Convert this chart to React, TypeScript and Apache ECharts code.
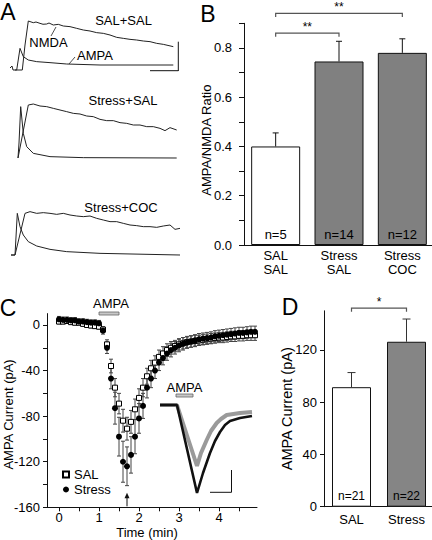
import React, { useEffect, useRef } from 'react';
import * as echarts from 'echarts';

const FONT = '"Liberation Sans", Arial, Helvetica, sans-serif';
const NARROW = '"Liberation Sans Narrow", "Liberation Sans", Arial, sans-serif';

// ---------------- Panel A: example traces [sweep time (a.u.), normalized current] ----------------
const traceLabels = ['SAL+SAL', 'Stress+SAL', 'Stress+COC'];
const salSalNmda = [[5, 0], [12.3, 0], [15, 0.5], [18.3, 0.98], [23.3, 0.946], [26, 0.96], [30, 0.933], [33, 0.915], [36.7, 0.92], [39, 0.94], [43.3, 0.9], [48.3, 0.913], [53.3, 0.88], [60, 0.867], [66.7, 0.833], [73.3, 0.8], [80, 0.78], [86.7, 0.747], [93.3, 0.733], [100, 0.7], [106.7, 0.653], [113.3, 0.633], [120, 0.613], [126.7, 0.6], [133.3, 0.58], [140, 0.567], [146.7, 0.533], [153.3, 0.513], [163.3, 0.467]];
const salSalAmpa = [[0, 0.04], [2, 0.08], [3, 0], [6.7, 0], [10, 0.433], [13.3, 0.267], [18.3, 0.2], [26.7, 0.167], [40, 0.147], [56.7, 0.12], [90, 0.1], [123, 0.1], [163.3, 0.1]];
const stressSalNmda = [[8, 0], [18.3, 1.06], [23.3, 1.08], [30, 1.04], [36.7, 1.027], [43.3, 0.993], [50, 0.96], [56.7, 0.927], [63.3, 0.893], [70, 0.88], [76.7, 0.84], [83.3, 0.827], [90, 0.773], [96.7, 0.747], [103.3, 0.747], [110, 0.707], [116.7, 0.693], [123.3, 0.66], [130, 0.66], [136.7, 0.627], [143.3, 0.627], [150, 0.593], [155, 0.547], [160, 0.607], [166.7, 0.56]];
const stressSalAmpa = [[8, 0], [9, 0.3], [10.7, 1.027], [13.3, 0.493], [16.7, 0.227], [23.3, 0.093], [40, 0.027], [73.3, 0.007], [166.7, 0]];
const stressCocNmda = [[1, 0], [5, 0], [15, 0.833], [20, 0.867], [26.7, 0.833], [33.3, 0.847], [40, 0.833], [46.7, 0.813], [53.3, 0.833], [60, 0.8], [66.7, 0.78], [73.3, 0.767], [80, 0.78], [86.7, 0.733], [93.3, 0.7], [100, 0.667], [106.7, 0.667], [113.3, 0.633], [120, 0.6], [126.7, 0.587], [133.3, 0.567], [140, 0.567], [146.7, 0.553], [153.3, 0.58], [160, 0.6], [165, 0.513], [170, 0.533]];
const stressCocAmpa = [[1, 0], [5, 0], [7.3, 0.833], [10, 0.567], [13.3, 0.4], [18.3, 0.267], [26.7, 0.18], [40, 0.113], [56.7, 0.067], [90, 0.033], [170, 0]];
const traceSets = [
  [salSalNmda, salSalAmpa],
  [stressSalNmda, stressSalAmpa],
  [stressCocNmda, stressCocAmpa],
];

// ---------------- Panel B ----------------
const bCategories = ['SAL\nSAL', 'Stress\nSAL', 'Stress\nCOC'];
const bMeans = [0.4, 0.745, 0.78];
const bErrors = [0.055, 0.082, 0.057];
const bN = [5, 14, 12];

// ---------------- Panel C ----------------
const cTimes = [0, 0.1, 0.2, 0.3, 0.4, 0.5, 0.6, 0.7, 0.8, 0.9, 1.0, 1.1, 1.2, 1.3, 1.4, 1.5, 1.6, 1.7, 1.8, 1.9, 2.0, 2.1, 2.2, 2.3, 2.4, 2.5, 2.6, 2.7, 2.8, 2.9, 3.0, 3.1, 3.2, 3.3, 3.4, 3.5, 3.6, 3.7, 3.8, 3.9, 4.0, 4.1, 4.2, 4.3, 4.4, 4.5, 4.6, 4.7, 4.8, 4.9];
const cSal = [3, 3, 3.5, 2.5, 2, 2, 1, 0, -0.5, -1, -1.5, -4, -17, -36, -55, -69, -84, -91, -85, -74, -64, -55, -45, -38, -33, -28, -25, -22, -20, -18.5, -17, -16, -15, -14.5, -14, -13.5, -13, -12.5, -12, -11.5, -11, -11, -10.5, -10, -10, -9.5, -9.5, -9, -9, -9];
const cSalErr = [2, 2, 2, 2, 2, 2, 2, 2, 2, 2, 2, 2.5, 4, 6, 8, 9, 10, 10, 10, 9, 8, 8, 7, 7, 6, 6, 6, 5.5, 5.5, 5, 5, 5, 5, 5, 5, 4.5, 4.5, 4.5, 4.5, 4.5, 4.5, 4.5, 4.5, 4.5, 4.5, 4.5, 4.5, 4.5, 4.5, 4.5];
const cStress = [5, 4.5, 4.5, 4, 4, 3, 3, 2.5, 2, 2, 1.5, -5, -20, -47, -73, -98, -120, -124, -114, -98, -82, -71, -55, -47, -40, -33, -29, -25, -22, -20, -18, -16.5, -15.5, -14.5, -13.5, -12.5, -12, -11.5, -11, -10, -9.5, -9, -8.5, -8, -7.5, -7, -7, -6.5, -6, -6];
const cStressErr = [2.5, 2.5, 2.5, 2.5, 2.5, 2.5, 2.5, 2.5, 2.5, 2.5, 2.5, 3, 5, 9, 14, 17, 18, 17, 16, 15, 13, 11, 9, 8, 7, 7, 6, 6, 6, 5.5, 5.5, 5.5, 5, 5, 5, 5, 5, 5, 5, 5, 5, 5, 5, 5, 5, 5, 5, 5, 5, 5];
const cYTicks = [-160, -140, -120, -100, -80, -60, -40, -20, 0];
const cYLabels = [-160, -120, -80, -40, 0];
const cXTicks = [0, 0.5, 1, 1.5, 2, 2.5, 3, 3.5, 4, 4.5];
const cXLabels = [0, 1, 2, 3, 4];
const cAmpaWindow = [1.0, 1.5];
const cArrowTime = 1.7;

// inset traces [time (a.u.), current (a.u.)]
const insetSal = [[0, 0], [17, 0], [37, -61], [41, -48], [46.7, -35], [51, -26], [56.7, -18], [61, -14], [66.7, -10], [80, -8], [92, -7]];
const insetStress = [[0, 0], [17, 0], [37, -88], [43, -68], [50, -48], [55, -36], [60, -27], [65, -20], [70, -16], [80, -13], [92, -11]];
const insetAmpaWindow = [16, 33];

// ---------------- Panel D ----------------
const dCategories = ['SAL', 'Stress'];
const dMeans = [91.5, 126.3];
const dErrors = [11.2, 17.4];
const dN = [21, 22];
const dYLabels = [0, 40, 80, 120];

const axisLine = { show: true, onZero: false, lineStyle: { color: '#111', width: 1 } };
const labelBase = { color: '#000', fontFamily: FONT, fontSize: 13 };

function errorRender(capW: number, bothCaps: boolean, color: string) {
  return (params: any, api: any) => {
    const x = api.value(0);
    const lo = api.coord([x, api.value(1)]);
    const hi = api.coord([x, api.value(2)]);
    const style = { stroke: color, lineWidth: 1, fill: null };
    const children: any[] = [
      { type: 'line', shape: { x1: lo[0], y1: lo[1], x2: hi[0], y2: hi[1] }, style },
      { type: 'line', shape: { x1: hi[0] - capW / 2, y1: hi[1], x2: hi[0] + capW / 2, y2: hi[1] }, style },
    ];
    if (bothCaps) {
      children.push({ type: 'line', shape: { x1: lo[0] - capW / 2, y1: lo[1], x2: lo[0] + capW / 2, y2: lo[1] }, style });
    }
    return { type: 'group', children };
  };
}

function txt(text: string, x: number, y: number, size = 13, extra: any = {}) {
  return {
    type: 'text', x, y, silent: true, z: 100,
    style: {
      text, fontSize: size, fontFamily: FONT, fill: '#000',
      align: 'center', verticalAlign: 'middle', textAlign: 'center', textVerticalAlign: 'middle',
      ...extra,
    },
  };
}
function seg(x1: number, y1: number, x2: number, y2: number, stroke = '#111', lineWidth = 1) {
  return { type: 'line', silent: true, z: 100, shape: { x1, y1, x2, y2 }, style: { stroke, lineWidth } };
}

export default function App() {
  const ref = useRef<HTMLDivElement>(null);
  useEffect(() => {
    const chart = echarts.init(ref.current!, null, { renderer: 'svg' });

    const grids = [
      { left: 10, top: 10, width: 170, height: 70 },
      { left: 10, top: 98, width: 170, height: 70 },
      { left: 10, top: 195, width: 170, height: 70 },
      { left: 244, top: 23.3, width: 190, height: 221.7 },
      { left: 47, top: 313.6, width: 210, height: 193.7 },
      { left: 160, top: 400, width: 92, height: 105 },
      { left: 324, top: 310.8, width: 110, height: 195.9 },
    ].map((g) => ({ ...g, outerBoundsMode: 'none', containLabel: false }));

    const xAxis: any[] = [
      { type: 'value', gridIndex: 0, min: 0, max: 170, show: false },
      { type: 'value', gridIndex: 1, min: 0, max: 170, show: false },
      { type: 'value', gridIndex: 2, min: 0, max: 170, show: false },
      {
        type: 'category', gridIndex: 3, data: bCategories,
        axisLine, axisTick: { show: false },
        axisLabel: { ...labelBase, lineHeight: 14, margin: 3, interval: 0 },
      },
      {
        type: 'value', gridIndex: 4, min: -0.3, max: 4.95,
        axisLine,
        axisTick: { show: true, customValues: cXTicks, length: 4, lineStyle: { color: '#111' } },
        axisLabel: { ...labelBase, customValues: cXLabels, margin: 4 },
        splitLine: { show: false },
        name: 'Time (min)', nameLocation: 'middle', nameGap: 19, nameMoveOverlap: false,
        nameTextStyle: { ...labelBase, padding: [0, 10, 0, 0] },
      },
      { type: 'value', gridIndex: 5, min: 0, max: 92, show: false },
      {
        type: 'category', gridIndex: 6, data: dCategories,
        axisLine, axisTick: { show: false },
        axisLabel: { ...labelBase, margin: 6, interval: 0 },
      },
    ];

    const yAxis: any[] = [
      { type: 'value', gridIndex: 0, min: -0.2, max: 1.2, show: false },
      { type: 'value', gridIndex: 1, min: -0.2, max: 1.2, show: false },
      { type: 'value', gridIndex: 2, min: -0.2, max: 1.2, show: false },
      {
        type: 'value', gridIndex: 3, min: 0, max: 0.9, interval: 0.1,
        axisLine,
        axisTick: { show: true, length: 5, lineStyle: { color: '#111' } },
        axisLabel: {
          ...labelBase, margin: 12,
          formatter: (v: number) => (Math.round(v * 10) % 2 === 0 ? v.toFixed(1) : ''),
        },
        splitLine: { show: false },
        name: 'AMPA/NMDA Ratio', nameLocation: 'middle', nameGap: 31, nameMoveOverlap: false,
        nameTextStyle: { ...labelBase, padding: [0, 12, 0, 0] },
      },
      {
        type: 'value', gridIndex: 4, min: -160, max: 10,
        axisLine,
        axisTick: { show: true, customValues: cYTicks, length: 4, lineStyle: { color: '#111' } },
        axisLabel: { ...labelBase, customValues: cYLabels, margin: 7 },
        splitLine: { show: false },
        name: 'AMPA Current (pA)', nameLocation: 'middle', nameGap: 32, nameMoveOverlap: false,
        nameTextStyle: { ...labelBase, padding: [0, 8, 0, 0] },
      },
      { type: 'value', gridIndex: 5, min: -100, max: 5, show: false },
      {
        type: 'value', gridIndex: 6, min: 0, max: 150,
        axisLine,
        axisTick: { show: true, customValues: dYLabels, length: 4, lineStyle: { color: '#111' } },
        axisLabel: { ...labelBase, customValues: dYLabels, margin: 7 },
        splitLine: { show: false },
        name: 'AMPA Current (pA)', nameLocation: 'middle', nameGap: 30, nameMoveOverlap: false,
        nameTextStyle: { ...labelBase, fontSize: 14.5 },
      },
    ];

    const series: any[] = [];
    traceSets.forEach((pair, i) => {
      pair.forEach((d, j) => {
        series.push({
          type: 'line', name: traceLabels[i] + (j === 0 ? ' NMDA' : ' AMPA'),
          xAxisIndex: i, yAxisIndex: i, data: d, symbol: 'none', silent: true,
          lineStyle: { color: '#222', width: 1 },
        });
      });
    });

    // Panel B
    series.push({
      type: 'bar', name: 'AMPA/NMDA', xAxisIndex: 3, yAxisIndex: 3, barWidth: 49,
      data: bMeans.map((v, i) => ({ value: v, itemStyle: { color: i === 0 ? '#ffffff' : '#808080' } })),
      itemStyle: { borderColor: '#111', borderWidth: 1 },
      label: {
        show: true, position: 'insideBottom', distance: 4, color: '#000', fontFamily: FONT, fontSize: 13,
        formatter: (p: any) => 'n=' + bN[p.dataIndex],
      },
      silent: true,
    });
    series.push({
      type: 'custom', name: 'B error', xAxisIndex: 3, yAxisIndex: 3, z: 3,
      data: bMeans.map((m, i) => [i, m, m + bErrors[i]]),
      renderItem: errorRender(6, false, '#111'), silent: true,
    });

    // Panel C
    series.push({
      type: 'custom', name: 'SAL error', xAxisIndex: 4, yAxisIndex: 4, z: 1,
      data: cTimes.map((t, i) => [t, cSal[i] - cSalErr[i], cSal[i] + cSalErr[i]]),
      renderItem: errorRender(4, true, '#444'), silent: true,
    });
    series.push({
      type: 'custom', name: 'Stress error', xAxisIndex: 4, yAxisIndex: 4, z: 1,
      data: cTimes.map((t, i) => [t, cStress[i] - cStressErr[i], cStress[i] + cStressErr[i]]),
      renderItem: errorRender(4, true, '#444'), silent: true,
    });
    series.push({
      type: 'scatter', name: 'SAL', xAxisIndex: 4, yAxisIndex: 4, z: 3,
      data: cTimes.map((t, i) => [t, cSal[i]]),
      symbol: 'rect', symbolSize: 5,
      itemStyle: { color: '#ffffff', borderColor: '#000', borderWidth: 1, opacity: 1 },
      silent: true,
    });
    series.push({
      type: 'scatter', name: 'Stress', xAxisIndex: 4, yAxisIndex: 4, z: 4,
      data: cTimes.map((t, i) => [t, cStress[i]]),
      symbol: 'circle', symbolSize: 6,
      itemStyle: { color: '#000', opacity: 1 },
      silent: true,
    });
    // inset
    series.push({
      type: 'line', name: 'SAL trace', xAxisIndex: 5, yAxisIndex: 5, data: insetSal, symbol: 'none',
      lineStyle: { color: '#9a9a9a', width: 4 }, silent: true, z: 5,
    });
    series.push({
      type: 'line', name: 'Stress trace', xAxisIndex: 5, yAxisIndex: 5, data: insetStress, symbol: 'none',
      lineStyle: { color: '#111', width: 2.6 }, silent: true, z: 6,
    });

    // Panel D
    series.push({
      type: 'bar', name: 'AMPA current', xAxisIndex: 6, yAxisIndex: 6, barWidth: 39,
      data: dMeans.map((v, i) => ({ value: v, itemStyle: { color: i === 0 ? '#ffffff' : '#858585' } })),
      itemStyle: { borderColor: '#111', borderWidth: 1 },
      label: {
        show: true, position: 'insideBottom', distance: 5, color: '#000', fontFamily: NARROW, fontSize: 12,
        formatter: (p: any) => 'n=' + dN[p.dataIndex],
      },
      silent: true,
    });
    series.push({
      type: 'custom', name: 'D error', xAxisIndex: 6, yAxisIndex: 6, z: 3,
      data: dMeans.map((m, i) => [i, m, m + dErrors[i]]),
      renderItem: errorRender(8, false, '#333'), silent: true,
    });

    chart.setOption({
      animation: false,
      backgroundColor: '#ffffff',
      textStyle: { fontFamily: FONT },
      grid: grids,
      xAxis,
      yAxis,
      legend: {
        data: ['SAL', 'Stress'], orient: 'vertical', left: 57, top: 463,
        itemWidth: 6, itemHeight: 6, itemGap: 2,
        textStyle: { ...labelBase }, selectedMode: false,
      },
      series,
    });

    const P = (gi: number, pt: any[]) => chart.convertToPixel({ gridIndex: gi } as any, pt) as number[];

    const g: any[] = [];
    // panel letters
    g.push(txt('A', 8, 12, 23), txt('B', 208, 14, 23), txt('C', 8, 308, 23), txt('D', 290, 306.5, 23));
    // panel A labels
    g.push(txt(traceLabels[0], 123.5, 20), txt(traceLabels[1], 123, 100), txt(traceLabels[2], 121, 207));
    g.push(txt('NMDA', 48.5, 42), txt('AMPA', 95, 55));
    g.push(seg(51, 36, 56, 27, '#222', 0.8), seg(69, 64, 75, 57, '#222', 0.8));
    // panel A scale bar
    g.push(seg(178.3, 41.7, 178.3, 71, '#111', 1), seg(150, 70.7, 178.3, 70.7, '#111', 1));

    // panel B brackets
    const bx0 = P(3, [0, 0])[0], bx1 = P(3, [1, 0])[0], bx2 = P(3, [2, 0])[0];
    const by1 = P(3, [0, 0.86])[1], by2 = P(3, [0, 0.94])[1];
    const bracket = (xa: number, xb: number, y: number) => ({
      type: 'polyline', silent: true, z: 100,
      shape: { points: [[xa, y + 3.5], [xa, y], [xb, y], [xb, y + 3.5]] },
      style: { stroke: '#555', lineWidth: 1.2, fill: null },
    });
    g.push(bracket(bx0, bx1, by1), txt('**', (bx0 + bx1) / 2, by1 - 6, 12));
    g.push(bracket(bx0, bx2, by2), txt('**', (bx0 + bx2) / 2, by2 - 6, 12));

    // panel D bracket
    const dx0 = P(6, [0, 0])[0], dx1 = P(6, [1, 0])[0];
    const dy = P(6, [0, 152])[1];
    g.push(bracket(dx0, dx1, dy), txt('*', (dx0 + dx1) / 2, dy - 6, 12));

    // panel C: AMPA application bar
    const ca = P(4, [cAmpaWindow[0], 0])[0], cb = P(4, [cAmpaWindow[1], 0])[0];
    g.push({ type: 'rect', silent: true, z: 100, shape: { x: ca, y: 312, width: cb - ca, height: 3 }, style: { fill: '#c8c8c8', stroke: '#666', lineWidth: 0.8 } });
    g.push(txt('AMPA', (ca + cb) / 2 + 2, 303));
    // arrow
    const ar = P(4, [cArrowTime, -160]);
    g.push(seg(ar[0], ar[1] - 1, ar[0], ar[1] - 10, '#111', 1));
    g.push({ type: 'polygon', silent: true, z: 100, shape: { points: [[ar[0] - 2.5, ar[1] - 9], [ar[0] + 2.5, ar[1] - 9], [ar[0], ar[1] - 14.5]] }, style: { fill: '#111' } });
    // inset AMPA bar
    const ia = P(5, [insetAmpaWindow[0], 0])[0], ib = P(5, [insetAmpaWindow[1], 0])[0];
    g.push({ type: 'rect', silent: true, z: 100, shape: { x: ia, y: 394, width: ib - ia, height: 3 }, style: { fill: '#c8c8c8', stroke: '#666', lineWidth: 0.8 } });
    g.push(txt('AMPA', (ia + ib) / 2, 387));
    // inset scale bar
    g.push(seg(231.5, 470, 231.5, 492.3, '#111', 1), seg(210, 492.3, 231.5, 492.3, '#111', 1));

    chart.setOption({ graphic: g });

    return () => chart.dispose();
  }, []);
  return <div ref={ref} style={{ position: 'fixed', left: 0, top: 0, width: 432, height: 540 }} />;
}
